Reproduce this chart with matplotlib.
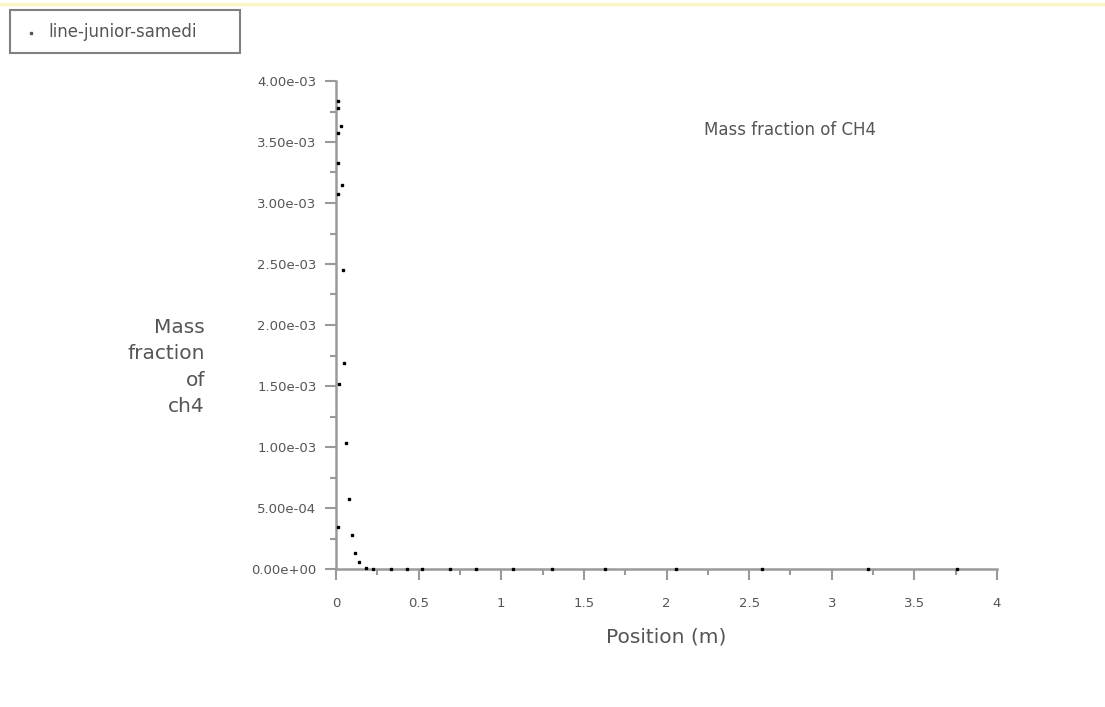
import matplotlib
matplotlib.use("Agg")
import matplotlib.pyplot as plt
from matplotlib.ticker import MultipleLocator, FuncFormatter
from matplotlib.patches import Rectangle
from matplotlib.lines import Line2D

# --- data (position in m, CH4 mass fraction) ---
position = [0.012, 0.015, 0.033, 0.012, 0.012, 0.035, 0.010, 0.045,
            0.050, 0.016, 0.062, 0.078, 0.012, 0.095, 0.115, 0.142,
            0.180, 0.226, 0.335, 0.43, 0.52, 0.69, 0.85, 1.07,
            1.31, 1.63, 2.06, 2.58, 3.22, 3.76]
mass_fraction = [3.84e-3, 3.78e-3, 3.63e-3, 3.57e-3, 3.33e-3, 3.15e-3, 3.07e-3, 2.45e-3,
                 1.69e-3, 1.52e-3, 1.03e-3, 5.75e-4, 3.45e-4, 2.75e-4, 1.30e-4, 6.0e-5,
                 1.0e-5, 4.0e-6, 0.0, 0.0, 0.0, 0.0, 0.0, 0.0,
                 0.0, 0.0, 0.0, 0.0, 0.0, 0.0]

series_name = "line-junior-samedi"
plot_title = "Mass fraction of CH4"
x_title = "Position (m)"
y_title = "Mass\nfraction\nof\nch4"

W, H = 1105, 707
text_col = "#555555"
axis_col = "#9a9a9a"

fig = plt.figure(figsize=(W / 100, H / 100), dpi=100)
fig.patch.set_facecolor("white")

ax = fig.add_axes([336 / W, 1 - 569 / H, 661 / W, 488 / H])
ax.plot(position, mass_fraction, ls="none", marker="s", ms=1.8, color="black",
        clip_on=False, zorder=5)

ax.set_xlim(0, 4)
ax.set_ylim(0, 4e-3)
ax.xaxis.set_major_locator(MultipleLocator(0.5))
ax.xaxis.set_minor_locator(MultipleLocator(0.25))
ax.yaxis.set_major_locator(MultipleLocator(5e-4))
ax.yaxis.set_minor_locator(MultipleLocator(2.5e-4))
ax.xaxis.set_major_formatter(FuncFormatter(lambda v, p: "%g" % v))
ax.yaxis.set_major_formatter(FuncFormatter(lambda v, p: "%.2e" % v))

for s in ["top", "right"]:
    ax.spines[s].set_visible(False)
for s in ["left", "bottom"]:
    ax.spines[s].set_color(axis_col)
    ax.spines[s].set_linewidth(1.8)

ax.tick_params(which="major", length=8, width=1.5, color=axis_col,
               labelsize=9.5, labelcolor=text_col)
ax.tick_params(which="minor", length=4, width=1.5, color=axis_col)
ax.tick_params(axis="x", which="major", pad=12)
ax.tick_params(axis="y", which="major", pad=6)

ax.set_xlabel(x_title, fontsize=14.5, color=text_col, labelpad=13)
ax.set_ylabel(y_title, fontsize=14.5, color=text_col, rotation=0,
              ha="right", va="center", multialignment="right", linespacing=1.5)
ax.yaxis.set_label_coords((205 - 336) / 661, (569 - 367) / 488)

ax.text((704 - 336) / 661, (569 - 130) / 488, plot_title, transform=ax.transAxes,
        fontsize=12, color=text_col, ha="left", va="center")

# legend box top-left
fig.patches.append(Rectangle((10 / W, 1 - 53 / H), 230 / W, 43 / H,
                             transform=fig.transFigure, fill=False,
                             edgecolor="#808080", linewidth=1.5))
fig.lines.append(Line2D([31 / W], [1 - 33 / H], transform=fig.transFigure,
                        marker="s", ms=1.6, color="#555555", ls="none"))
fig.text(48 / W, 1 - 32 / H, series_name, fontsize=12, color=text_col,
         ha="left", va="center")

# faint yellow strip along the top
fig.lines.append(Line2D([0, 1], [1 - 4 / H, 1 - 4 / H], transform=fig.transFigure,
                        color="#fbf6c4", linewidth=2.5))

fig.savefig("out.png", dpi=100, facecolor="white")
